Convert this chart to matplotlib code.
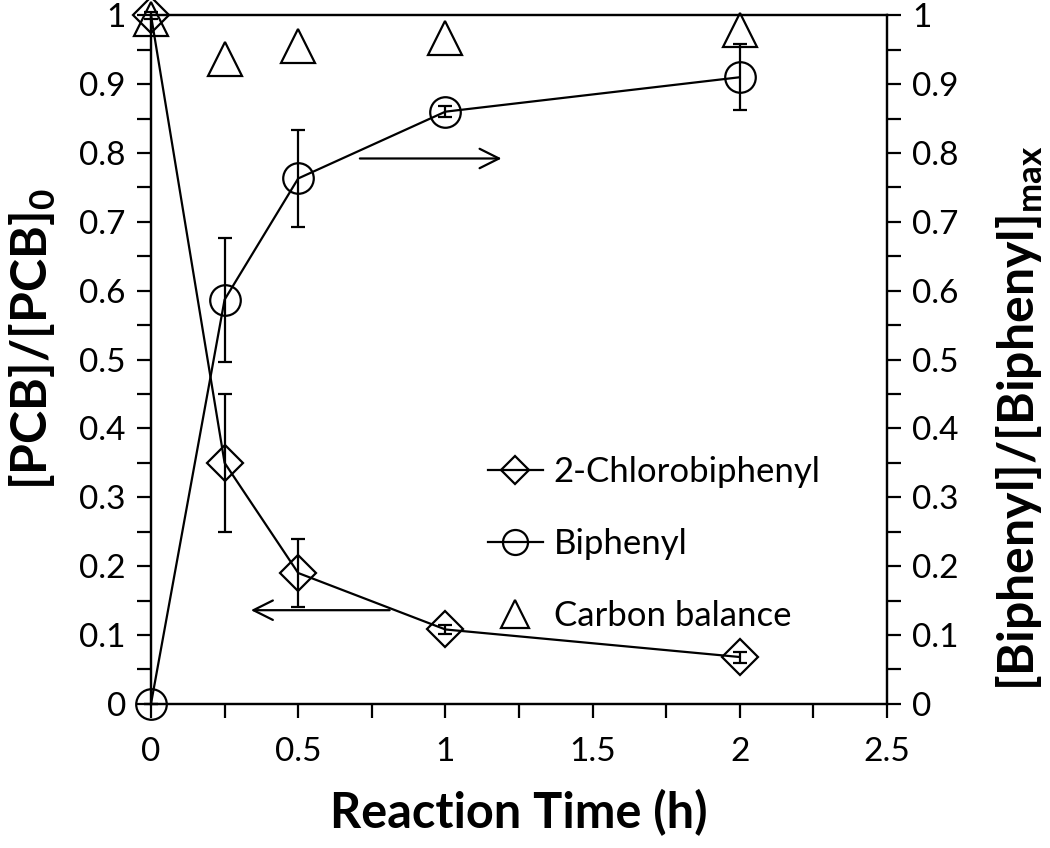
import numpy as np
import matplotlib
matplotlib.use("Agg")
from matplotlib import pyplot as plt
from matplotlib.ticker import MultipleLocator
from matplotlib.lines import Line2D

plt.rcParams['font.family'] = ['Lato', 'DejaVu Sans']
plt.rcParams['mathtext.fontset'] = 'custom'
plt.rcParams['mathtext.rm'] = 'Lato'
plt.rcParams['mathtext.bf'] = 'Lato:bold'

# data
time_h = [0, 0.25, 0.5, 1, 2]
pcb = [1.0, 0.35, 0.19, 0.108, 0.068]
pcb_err = [0.005, 0.10, 0.05, 0.007, 0.008]
biphenyl = [0.0, 0.587, 0.763, 0.86, 0.91]
biphenyl_err = [0.0, 0.09, 0.07, 0.008, 0.048]
carbon = [0.995, 0.936, 0.955, 0.967, 0.978]

x_ticks = [0, 0.5, 1, 1.5, 2, 2.5]
y_ticks = [0, 0.1, 0.2, 0.3, 0.4, 0.5, 0.6, 0.7, 0.8, 0.9, 1]

fig = plt.figure(figsize=(10.5, 8.48), dpi=100)
ax = fig.add_axes([0.1438, 0.170, 0.7010, 0.812])
ax2 = ax.twinx()

lw = 1.6
ax.errorbar(time_h, pcb, yerr=pcb_err, fmt='-D', color='black', lw=lw,
            ms=18, mfc='none', mec='black', mew=lw, capsize=5,
            elinewidth=lw, capthick=lw, clip_on=False, zorder=3)
ax2.errorbar(time_h, biphenyl, yerr=biphenyl_err, fmt='-o', color='black', lw=lw,
             ms=22, mfc='none', mec='black', mew=lw, capsize=5,
             elinewidth=lw, capthick=lw, clip_on=False, zorder=3)
ax.plot(time_h, carbon, ls='none', marker='^', ms=24, mfc='none',
        mec='black', mew=lw, clip_on=False, zorder=3)

ax.set_xlim(0, 2.5)
ax.set_ylim(0, 1)
ax2.set_ylim(0, 1)
ax.set_xticks(x_ticks)
ax.set_xticklabels(['0', '0.5', '1', '1.5', '2', '2.5'])
ax.xaxis.set_minor_locator(MultipleLocator(0.25))
for a in (ax, ax2):
    a.set_yticks(y_ticks)
    a.set_yticklabels(['0', '0.1', '0.2', '0.3', '0.4', '0.5', '0.6', '0.7', '0.8', '0.9', '1'])
    a.yaxis.set_minor_locator(MultipleLocator(0.05))
    for s in a.spines.values():
        s.set_linewidth(lw)
    a.tick_params(which='both', direction='out', length=10, width=lw, labelsize=24, pad=8)

ax.tick_params(axis='x', which='both', top=False, pad=14)

# arrows pointing to the axis each curve belongs to
ax.annotate('', xy=(1.2, 0.792), xytext=(0.7, 0.792),
            arrowprops=dict(arrowstyle='->', lw=lw, color='black', mutation_scale=35))
ax.annotate('', xy=(0.33, 0.136), xytext=(0.82, 0.136),
            arrowprops=dict(arrowstyle='->', lw=lw, color='black', mutation_scale=35))

ax.set_xlabel('Reaction Time (h)', fontsize=35, fontweight='bold', labelpad=16)
ax.set_ylabel(r'[PCB]/[PCB]$_\mathbf{0}$', fontsize=36, fontweight='bold')
ax.yaxis.set_label_coords(-0.126, 0.53)
ax2.set_ylabel(r'[Biphenyl]/[Biphenyl]$_\mathbf{max}$', fontsize=36, fontweight='bold')
ax2.yaxis.set_label_coords(1.146, 0.415)

handles = [
    Line2D([], [], color='black', lw=lw, marker='D', ms=14, mfc='none', mew=lw),
    Line2D([], [], color='black', lw=lw, marker='o', ms=18, mfc='none', mew=lw),
    Line2D([], [], ls='none', marker='^', ms=20, mfc='none', mec='black', mew=lw),
]
ax.legend(handles, ['2-Chlorobiphenyl', 'Biphenyl', 'Carbon balance'],
          loc='upper left', bbox_to_anchor=(0.415, 0.405), frameon=False, fontsize=25,
          handlelength=1.6, handletextpad=0.3, labelspacing=1.15)

fig.savefig('out.png', dpi=100)
